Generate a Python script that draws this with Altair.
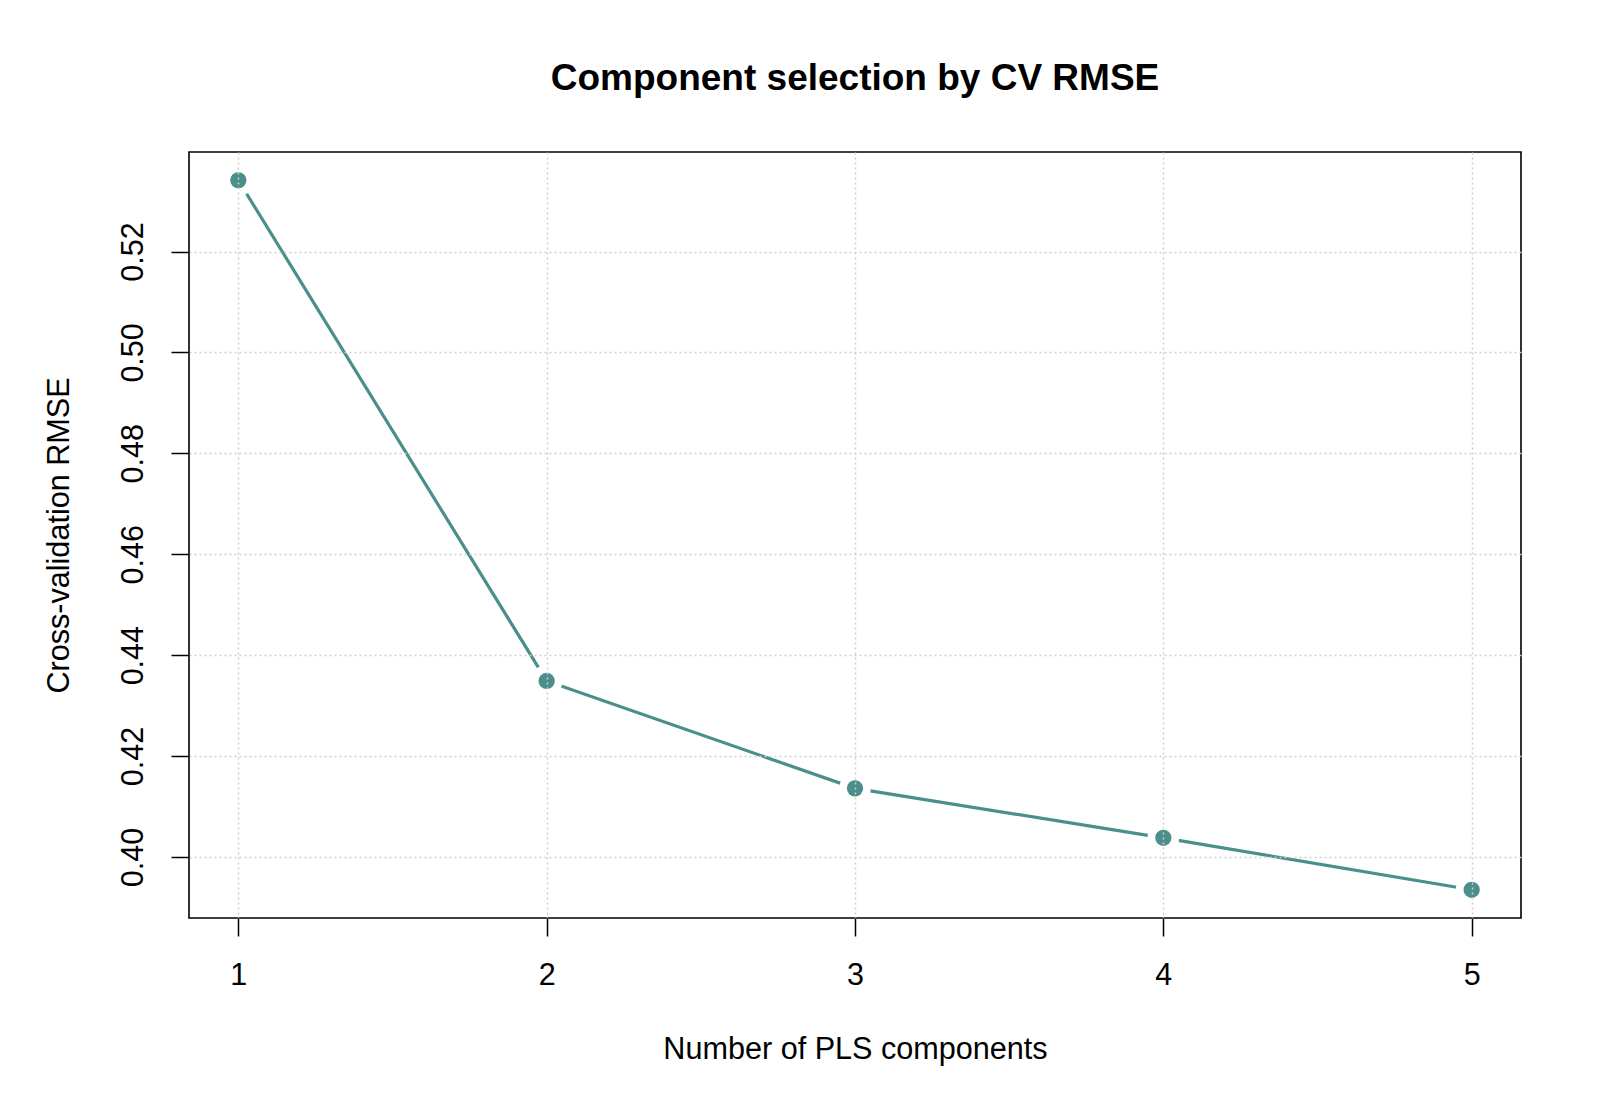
import altair as alt
import pandas as pd

# Data
components = [1, 2, 3, 4, 5]
cv_rmse = [0.5341, 0.4349, 0.4136, 0.4038, 0.3935]

x_ticks = [1, 2, 3, 4, 5]
y_ticks = [0.40, 0.42, 0.44, 0.46, 0.48, 0.50, 0.52]

df = pd.DataFrame({"ncomp": components, "rmse": cv_rmse})

FONT = "Liberation Sans, Arial, Helvetica, sans-serif"
TEAL = "#4A8F8B"

x_enc = alt.X(
    "ncomp:Q",
    scale=alt.Scale(domain=[0.84, 5.16], nice=False, zero=False),
    axis=alt.Axis(
        values=x_ticks, format="d", title="Number of PLS components",
        grid=True, gridColor="#cfcfcf", gridDash=[2, 3], gridWidth=1.5,
        domain=False, ticks=True, tickSize=18, tickColor="black", tickWidth=1.5,
        labelFontSize=30.5, labelFont=FONT, labelColor="black",
        labelBaseline="middle", labelPadding=39, labelFlush=False,
        titleFontSize=30.6, titleFont=FONT, titleFontWeight="normal", titleColor="black",
        titleX=666, titleY=131, titleBaseline="middle", titleAlign="center",
        zindex=1,
    ),
)
y_enc = alt.Y(
    "rmse:Q",
    scale=alt.Scale(domain=[0.38791, 0.53972], nice=False, zero=False),
    axis=alt.Axis(
        values=y_ticks, format=".2f", title="Cross-validation RMSE",
        grid=True, gridColor="#cfcfcf", gridDash=[2, 3], gridWidth=1.5,
        domain=False, ticks=True, tickSize=18, tickColor="black", tickWidth=1.5,
        labelFontSize=30.5, labelFont=FONT, labelColor="black",
        labelAngle=270, labelAlign="center", labelBaseline="middle", labelPadding=38,
        labelFlush=False,
        titleFontSize=30.6, titleFont=FONT, titleFontWeight="normal", titleColor="black",
        titleAngle=270, titleX=-130, titleY=383, titleBaseline="middle", titleAlign="center",
        zindex=1,
    ),
)

base = alt.Chart(df).encode(x=x_enc, y=y_enc)

line = base.mark_line(color=TEAL, strokeWidth=3.2)
halo = base.mark_circle(color="white", size=1000, opacity=1)
points = base.mark_circle(color=TEAL, size=265, opacity=1)

chart = (
    alt.layer(line, halo, points)
    .properties(
        width=1332,
        height=766,
        autosize=alt.AutoSizeParams(type="none"),
        padding={"left": 189, "top": 152, "right": 79, "bottom": 190},
        view=alt.ViewBackground(stroke="black", strokeWidth=1.6),
        title=alt.TitleParams(
            "Component selection by CV RMSE",
            font=FONT, fontSize=37, fontWeight="bold", color="black",
            anchor="middle", offset=17, baseline="bottom",
        ),
    )
    .configure_view(stroke="black", strokeWidth=1.6)
    .configure(background="white")
)

chart.save("out.html", embed_options={"renderer": "svg", "actions": False})
